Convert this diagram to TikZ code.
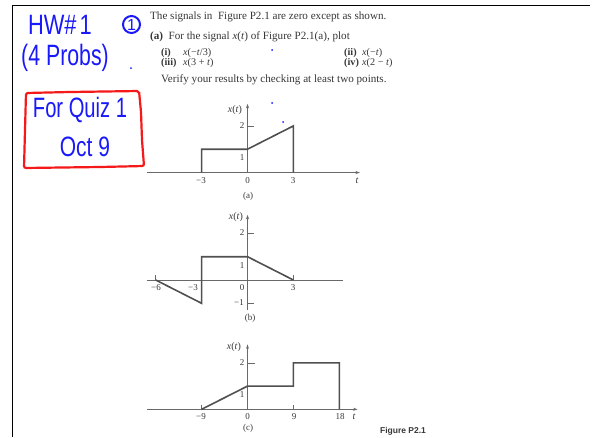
\documentclass[tikz,border=0pt]{standalone}
\usepackage{fontspec}
\setmainfont{Liberation Serif}
\newfontfamily\handfont{Liberation Sans}
\newfontfamily\capfont{Liberation Sans}
\usetikzlibrary{arrows.meta}
\definecolor{ink}{RGB}{55,55,55}
\definecolor{plotgray}{RGB}{80,80,80}
\definecolor{axisgray}{RGB}{105,105,105}
\definecolor{handblue}{RGB}{25,25,250}
\definecolor{handred}{RGB}{245,25,25}
\begin{document}
\begin{tikzpicture}[x=1pt,y=-1pt,
  body/.style={inner sep=0pt, anchor=base west, text=ink, font=\fontsize{11.1}{13}\selectfont},
  item/.style={inner sep=0pt, anchor=base west, text=ink, font=\fontsize{10.2}{12}\selectfont},
  ticklab/.style={inner sep=0pt, text=ink, font=\fontsize{9}{10}\selectfont},
  axisline/.style={draw=axisgray, line width=0.8pt},
  axisarrow/.style={axisline, -{Stealth[length=4.5pt,width=3pt]}},
  sig/.style={draw=plotgray, line width=1.6pt, line join=miter},
  hand/.style={inner sep=0pt, text=handblue, font=\handfont\fontsize{28}{30}\selectfont},
  dot/.style={fill=handblue, circle, inner sep=0pt, minimum size=2pt}
]
\useasboundingbox (0,0) rectangle (593,437);
\fill[white] (0,0) rectangle (593,437);
% frame
\draw[black, line width=1pt] (12,437) -- (12,5) -- (590,5);

% problem text
\node[body] (l1) at (150,19.5) {The signals in\ \ Figure P2.1 are zero except as shown.};
\node[body] (l2) at (150,39) {\textbf{(a)}\ \ For the signal \textit{x}(\textit{t}) of Figure P2.1(a), plot};
\node[item] (i1) at (161,55.5) {\textbf{(i)}};
\node[item] (e1) at (183,55.5) {\textit{x}(−\textit{t}/3)};
\node[item] (i2) at (344,55.5) {\textbf{(ii)}};
\node[item] (e2) at (362,55.5) {\textit{x}(−\textit{t})};
\node[item] (i3) at (161,65.3) {\textbf{(iii)}};
\node[item] (e3) at (183,65.3) {\textit{x}(3 + \textit{t})};
\node[item] (i4) at (344,65.3) {\textbf{(iv)}};
\node[item] (e4) at (362,65.3) {\textit{x}(2 − \textit{t})};
\node[body] (l5) at (161,82.3) {Verify your results by checking at least two points.};

% handwriting
\node[hand] (hw) at (60,24.5) {\scalebox{0.78}[1]{HW\#\hspace{4pt}1}};
\draw[handblue, line width=2pt] (131.5,24.5) circle (8.5);
\node[hand, font=\handfont\fontsize{16}{16}\selectfont] (one) at (131.5,24.5) {1};
\node[hand] (probs) at (65,58) {\scalebox{0.76}[1.05]{(4 Probs)}};
\node[hand] (quiz) at (80,110) {\scalebox{0.72}[1]{For Quiz 1}};
\node[hand] (oct) at (85,147) {\scalebox{0.75}[1]{Oct 9}};
\draw[handred, line width=2.2pt, rounded corners=2pt]
  (26,93) -- (70,92) -- (139,91) -- (141,112) -- (142,140) -- (144,166)
  -- (100,167) -- (24,168) -- (25,130) -- cycle;
\node[dot] (d1) at (131,68) {};
\node[dot] (d2) at (272,50) {};
\node[dot] (d3) at (272,103) {};
\node[dot] (d4) at (283,122) {};

% plot (a)
\begin{scope}[shift={(247.5,172.5)}, x=15.3pt, y=23.3pt]
  \draw[axisarrow] (-6.57,0) -- (7.35,0);
  \draw[axisarrow] (0,0) -- (0,2.95);
  \draw[axisline] (0,2) -- (0.45,2);
  \draw[sig] (-3,0) -- (-3,1) -- (0,1) -- (3,2) -- (3,0);
\end{scope}
\node[ticklab, font=\fontsize{10}{10}\selectfont] (ax) at (235,110) {\textit{x}(\textit{t})};
\node[ticklab] (a2) at (242,126) {2};
\node[ticklab] (a1) at (242,158) {1};
\node[ticklab] (am3) at (201,181) {−3};
\node[ticklab] (a0) at (247.5,181) {0};
\node[ticklab] (a3) at (293,181) {3};
\node[ticklab, font=\fontsize{10}{10}\itshape] (at) at (357,181) {t};
\node[ticklab] (acap) at (248,196) {(a)};

% plot (b)
\begin{scope}[shift={(247.5,280)}, x=15.3pt, y=23.3pt]
  \draw[axisline] (-6.59,0) -- (6.25,0);
  \draw[axisarrow] (0,-1.3) -- (0,2.8);
  \draw[axisline] (0,2) -- (0.45,2);
  \draw[axisline] (0,-1) -- (0.45,-1);
  \draw[axisline] (-6,0) -- (-6,0.2);
  \draw[axisline] (3,0) -- (3,0.2);
  \draw[sig] (-6,0) -- (-3,-1) -- (-3,1) -- (0,1) -- (3,0);
\end{scope}
\node[ticklab, font=\fontsize{10}{10}\selectfont] (bx) at (236,217) {\textit{x}(\textit{t})};
\node[ticklab] (b2) at (242,233) {2};
\node[ticklab] (b1) at (242,266) {1};
\node[ticklab] (bm1) at (239,303) {−1};
\node[ticklab] (bm6) at (156,288) {−6};
\node[ticklab] (bm3) at (193,288) {−3};
\node[ticklab] (b0) at (242,288) {0};
\node[ticklab] (b3) at (293,288) {3};
\node[ticklab] (bcap) at (250,318) {(b)};

% plot (c)
\begin{scope}[shift={(247.5,409.3)}, x=5.1pt, y=23.2pt]
  \draw[axisarrow] (-19.7,0) -- (21.6,0);
  \draw[axisarrow] (0,0) -- (0,2.8);
  \draw[axisline] (0,2) -- (1.4,2);
  \draw[axisline] (-9,0) -- (-9,0.2);
  \draw[axisline] (9,0) -- (9,0.2);
  \draw[sig] (-9,0) -- (0,1) -- (9,1) -- (9,2) -- (18,2) -- (18,0);
\end{scope}
\node[ticklab, font=\fontsize{10}{10}\selectfont] (cx) at (234,347) {\textit{x}(\textit{t})};
\node[ticklab] (c2) at (242,363) {2};
\node[ticklab] (c1) at (242,395) {1};
\node[ticklab] (cm9) at (201,417) {−9};
\node[ticklab] (c0) at (247.5,417) {0};
\node[ticklab] (c9) at (294,417) {9};
\node[ticklab] (c18) at (340,417) {18};
\node[ticklab, font=\fontsize{10}{10}\itshape] (ct) at (354,417) {t};
\node[ticklab] (ccap) at (248,428) {(c)};

\node[inner sep=0pt, text=ink, font=\capfont\bfseries\fontsize{8.5}{9}\selectfont] (fig) at (403,431) {Figure P2.1};
\end{tikzpicture}
\end{document}
